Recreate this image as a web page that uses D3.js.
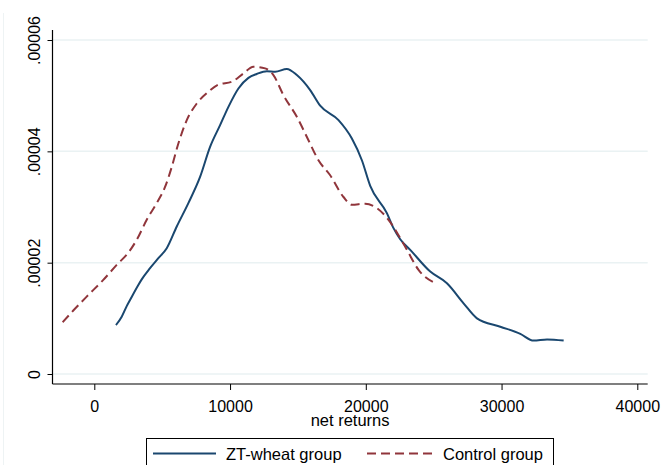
<!DOCTYPE html>
<html>
<head>
<meta charset="utf-8">
<script src="https://cdn.jsdelivr.net/npm/d3@7"></script>
<style>
  html, body { margin: 0; padding: 0; background: #ffffff; }
  svg { display: block; font-family: "Liberation Sans", Arial, sans-serif; }
</style>
</head>
<body>
<svg id="chart" width="661" height="465"></svg>
<script>
// ---- data ----
const ztX = [1600, 2020, 2388, 2632, 3244, 3494, 4106, 4718, 5337, 6074, 6930, 7792, 8529, 9266, 9880,
  10617, 11354, 11970, 12709, 13322, 14183, 14920, 15902, 16639, 17990, 18974, 19711, 20325, 21554,
  22042, 22536, 23273, 24747, 25977, 27202, 28189, 29909, 31383, 32363, 33351, 34575];
const ztY = [8.8e-6, 1.03e-5, 1.22e-5, 1.33e-5, 1.60e-5, 1.70e-5, 1.90e-5, 2.08e-5, 2.26e-5, 2.65e-5,
  3.07e-5, 3.54e-5, 4.08e-5, 4.47e-5, 4.80e-5, 5.13e-5, 5.32e-5, 5.39e-5, 5.44e-5, 5.43e-5, 5.48e-5,
  5.37e-5, 5.10e-5, 4.82e-5, 4.56e-5, 4.23e-5, 3.84e-5, 3.38e-5, 2.89e-5, 2.62e-5, 2.42e-5, 2.23e-5,
  1.84e-5, 1.63e-5, 1.27e-5, 1.00e-5, 8.5e-6, 7.2e-6, 6.0e-6, 6.2e-6, 6.0e-6];

const ctrlX = [-2330, -1548, -560, 663, 1651, 2506, 3126, 3863, 4600, 5212, 5706, 6193, 6812, 7549,
  8404, 9141, 10129, 10984, 11721, 12584, 13196, 13933, 14920, 15776, 16513, 17376, 18356, 18974,
  19956, 20818, 21674, 22536, 23030, 23885, 25240];
const ctrlY = [9.3e-6, 1.14e-5, 1.39e-5, 1.69e-5, 1.96e-5, 2.18e-5, 2.41e-5, 2.77e-5, 3.07e-5, 3.36e-5,
  3.72e-5, 4.14e-5, 4.56e-5, 4.86e-5, 5.07e-5, 5.20e-5, 5.25e-5, 5.40e-5, 5.52e-5, 5.49e-5, 5.37e-5,
  5.01e-5, 4.62e-5, 4.20e-5, 3.84e-5, 3.57e-5, 3.18e-5, 3.04e-5, 3.06e-5, 2.98e-5, 2.77e-5, 2.44e-5,
  2.23e-5, 1.87e-5, 1.62e-5];

const xTicks = [0, 10000, 20000, 30000, 40000];
const xTickLabels = ["0", "10000", "20000", "30000", "40000"];
const yTicks = [0, 0.00002, 0.00004, 0.00006];
const yTickLabels = ["0", ".00002", ".00004", ".00006"];
const seriesNames = ["ZT-wheat group", "Control group"];
const xTitle = "net returns";

// ---- layout ----
const svg = d3.select("#chart");
const pL = 52.5, pR = 647.7, pT = 30, pB = 384;
const x = d3.scaleLinear().domain([-3079, 40766]).range([pL, pR]);
const y = d3.scaleLinear().domain([-1.796e-6, 6.18e-5]).range([pB, pT]);

const blue = "#1a476f", red = "#90353b";

// faint outer border on the left
svg.append("line").attr("x1", 3.5).attr("x2", 3.5).attr("y1", 13).attr("y2", 465)
  .attr("stroke", "#eef3f4").attr("stroke-width", 1);

// gridlines
svg.append("g").selectAll("line").data(yTicks).join("line")
  .attr("x1", pL).attr("x2", pR)
  .attr("y1", d => y(d)).attr("y2", d => y(d))
  .attr("stroke", "#eaf2f3").attr("stroke-width", 1.5);

// y axis
const yAxis = svg.append("g").attr("transform", `translate(${pL},0)`)
  .call(d3.axisLeft(y).tickValues(yTicks).tickSize(5).tickSizeOuter(0)
    .tickFormat((d, i) => yTickLabels[i]));
yAxis.select(".domain").attr("stroke", "#000").attr("stroke-width", 1.2)
  .attr("d", `M0,${pT}V${pB}`);
yAxis.selectAll(".tick line").attr("stroke", "#000").attr("stroke-width", 1);
yAxis.selectAll(".tick text")
  .attr("font-size", 16).attr("fill", "#000")
  .attr("text-anchor", "middle")
  .attr("x", 0).attr("y", 0).attr("dy", null)
  .attr("transform", "translate(-13,0) rotate(-90)");

// x axis
const xAxis = svg.append("g").attr("transform", `translate(0,${pB})`)
  .call(d3.axisBottom(x).tickValues(xTicks).tickSize(6).tickSizeOuter(0)
    .tickFormat((d, i) => xTickLabels[i]));
xAxis.select(".domain").attr("stroke", "#000").attr("stroke-width", 1.2)
  .attr("d", `M${pL},0H${pR}`);
xAxis.selectAll(".tick line").attr("stroke", "#000").attr("stroke-width", 1);
xAxis.selectAll(".tick text").attr("font-size", 16).attr("fill", "#000")
  .attr("y", 27.5).attr("dy", null);

svg.append("text").attr("x", (pL + pR) / 2).attr("y", 425.5)
  .attr("text-anchor", "middle").attr("font-size", 16.5).attr("fill", "#000").text(xTitle);

// lines
const line = d3.line().x(d => x(d[0])).y(d => y(d[1])).curve(d3.curveMonotoneX);
const ztData = ztX.map((v, i) => [v, ztY[i]]);
const ctrlData = ctrlX.map((v, i) => [v, ctrlY[i]]);

svg.append("path").datum(ztData).attr("d", line)
  .attr("fill", "none").attr("stroke", blue).attr("stroke-width", 2);
svg.append("path").datum(ctrlData).attr("d", line)
  .attr("fill", "none").attr("stroke", red).attr("stroke-width", 2)
  .attr("stroke-dasharray", "9,5");

// legend
const lg = svg.append("g");
lg.append("rect").attr("x", 146.5).attr("y", 438.5).attr("width", 407).attr("height", 40)
  .attr("fill", "#fff").attr("stroke", "#000").attr("stroke-width", 1);
lg.append("line").attr("x1", 153).attr("x2", 216).attr("y1", 453.5).attr("y2", 453.5)
  .attr("stroke", blue).attr("stroke-width", 2);
lg.append("text").attr("x", 226).attr("y", 460).attr("font-size", 16.5).attr("fill", "#000")
  .text(seriesNames[0]);
lg.append("line").attr("x1", 367).attr("x2", 434).attr("y1", 453.5).attr("y2", 453.5)
  .attr("stroke", red).attr("stroke-width", 2).attr("stroke-dasharray", "9,5");
lg.append("text").attr("x", 443).attr("y", 460).attr("font-size", 16.5).attr("fill", "#000")
  .text(seriesNames[1]);
</script>
</body>
</html>
